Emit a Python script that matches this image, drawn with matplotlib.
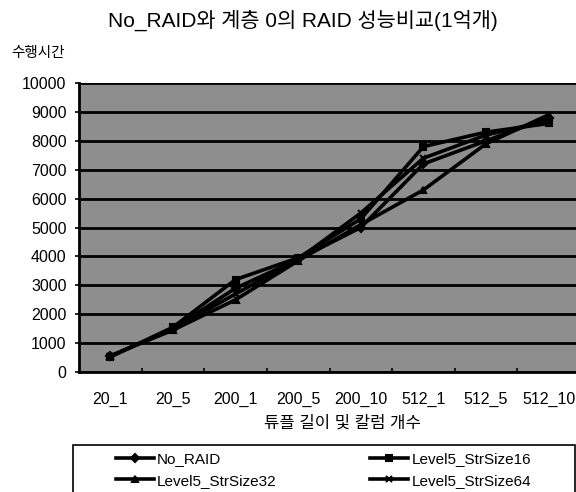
import matplotlib
matplotlib.use('Agg')
import matplotlib.pyplot as plt
from matplotlib.patches import Rectangle

plt.rcParams['font.family'] = ['Liberation Sans', 'Noto Sans CJK KR']

# ---- data ----
categories = ['20_1', '20_5', '200_1', '200_5', '200_10', '512_1', '512_5', '512_10']
no_raid = [550, 1500, 2900, 3900, 5000, 7200, 8000, 8800]
strsize16 = [520, 1550, 3200, 3950, 5300, 7800, 8300, 8600]
strsize32 = [560, 1450, 2500, 3850, 5100, 6300, 7900, 8900]
strsize64 = [540, 1500, 2700, 3900, 5500, 7400, 8200, 8700]
y_ticks = [0, 1000, 2000, 3000, 4000, 5000, 6000, 7000, 8000, 9000, 10000]

series = [
    ('No_RAID', no_raid, 'D', 4),
    ('Level5_StrSize16', strsize16, 's', 4),
    ('Level5_StrSize32', strsize32, '^', 5),
    ('Level5_StrSize64', strsize64, 'x', 5),
]

W, H = 576, 492
fig = plt.figure(figsize=(W / 100, H / 100), dpi=100)

# plot area runs past the right edge, like the clipped scan
left, right, top, bottom = 79, 580, 83, 372
ax = fig.add_axes([left / W, 1 - bottom / H, (right - left) / W, (bottom - top) / H])
ax.set_facecolor('#8e8e8e')

x = list(range(len(categories)))
for name, vals, mk, ms in series:
    ax.plot(x, vals, color='black', linewidth=2.6, marker=mk, markersize=ms,
            markeredgewidth=1.5, label=name, zorder=3)

ax.set_xlim(-0.5, len(categories) - 0.5)
ax.set_ylim(0, 10000)
ax.set_yticks(y_ticks)
ax.set_xticks(x)
ax.set_xticklabels(categories, fontsize=11.5)
ax.set_xticks([i + 0.5 for i in x[:-1]], minor=True)
ax.tick_params(axis='x', which='major', length=0, pad=14)
ax.tick_params(axis='x', which='minor', length=3, direction='in', width=1.2)
ax.tick_params(axis='y', labelsize=11.5, length=3, width=1.2, pad=6)
ax.yaxis.grid(True, color='black', linewidth=2.0)
ax.set_axisbelow(True)
for side in ('top', 'right'):
    ax.spines[side].set_visible(False)
for side in ('left', 'bottom'):
    ax.spines[side].set_linewidth(2.0)

fig.text(303 / W, 1 - 20 / H, 'No_RAID와 계층 0의 RAID 성능비교(1억개)',
         ha='center', va='center', fontsize=15)
fig.text(11 / W, 1 - 53 / H, '수행시간', ha='left', va='center', fontsize=10.5)
fig.text(342 / W, 1 - 423 / H, '튜플 길이 및 칼럼 개수', ha='center', va='center', fontsize=12)

# legend box, clipped at the bottom edge
fig.patches.append(Rectangle((73 / W, 1 - 510 / H), 502 / W, 65 / H,
                             transform=fig.transFigure, fill=False,
                             edgecolor='black', linewidth=1.2))
handles, labels = ax.get_legend_handles_labels()
order = [0, 2, 1, 3]
fig.legend([handles[i] for i in order], [labels[i] for i in order],
           ncol=2, loc='upper left', bbox_to_anchor=(116 / W, 1 - 452 / H),
           frameon=False, fontsize=11, handlelength=2.5, handletextpad=0.2,
           columnspacing=6.1, labelspacing=0.5, borderpad=0, borderaxespad=0)

fig.savefig('out.png', dpi=100)
